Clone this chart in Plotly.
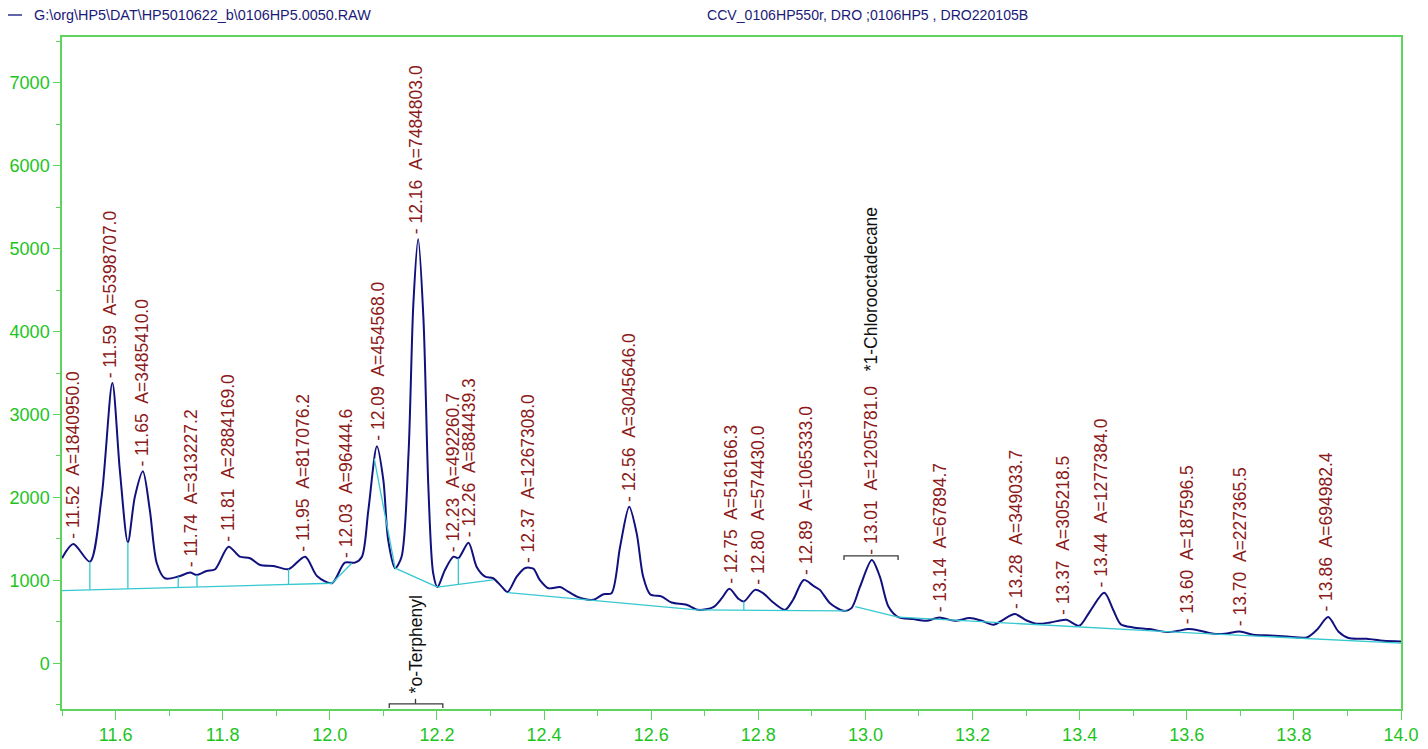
import plotly.graph_objects as go

# ---------------- data ----------------
time = [11.500, 11.521, 11.552, 11.574, 11.594, 11.608, 11.623, 11.636, 11.651, 11.664,
        11.677, 11.692, 11.717, 11.739, 11.752, 11.770, 11.786, 11.811, 11.832, 11.851,
        11.870, 11.895, 11.923, 11.954, 11.976, 12.004, 12.028, 12.047, 12.060, 12.072,
        12.088, 12.100, 12.109, 12.122, 12.134, 12.147, 12.156, 12.165, 12.175, 12.184,
        12.193, 12.201, 12.215, 12.231, 12.240, 12.259, 12.274, 12.290, 12.305, 12.321,
        12.332, 12.349, 12.365, 12.380, 12.392, 12.408, 12.430, 12.445, 12.464, 12.492,
        12.511, 12.526, 12.542, 12.559, 12.573, 12.585, 12.598, 12.620, 12.638, 12.666,
        12.688, 12.716, 12.732, 12.746, 12.763, 12.773, 12.794, 12.809, 12.828, 12.850,
        12.865, 12.885, 12.903, 12.915, 12.934, 12.959, 12.974, 12.990, 13.012, 13.027,
        13.043, 13.061, 13.089, 13.114, 13.138, 13.167, 13.195, 13.217, 13.239, 13.257,
        13.279, 13.301, 13.320, 13.345, 13.375, 13.399, 13.419, 13.446, 13.463, 13.477,
        13.500, 13.531, 13.563, 13.584, 13.603, 13.625, 13.650, 13.671, 13.699, 13.724,
        13.756, 13.787, 13.824, 13.843, 13.864, 13.883, 13.902, 13.936, 13.967, 14.000]

signal = [1267, 1439, 1226, 2007, 3378, 2328, 1459, 2007, 2316, 1847,
          1207, 1026, 1046, 1094, 1066, 1114, 1135, 1406, 1286, 1267,
          1186, 1174, 1135, 1286, 1054, 966, 1214, 1214, 1286, 1847,
          2617, 2208, 1487, 1147, 1286, 2529, 4332, 5113, 4131, 2128,
          1087, 918, 1126, 1286, 1267, 1454, 1166, 1046, 1026, 925,
          860, 1046, 1150, 1141, 1006, 906, 920, 865, 798, 766,
          834, 846, 1406, 1887, 1567, 1046, 834, 805, 733, 706,
          645, 678, 786, 898, 778, 745, 886, 846, 733, 645,
          766, 1006, 934, 886, 726, 633, 666, 925, 1246, 1046,
          685, 558, 534, 513, 553, 513, 546, 513, 465, 525,
          594, 517, 477, 493, 525, 453, 625, 850, 640, 470,
          433, 413, 377, 393, 413, 393, 357, 357, 385, 345,
          337, 325, 313, 405, 558, 385, 305, 297, 273, 265]

# integration baseline segments (start time, start level, end time, end level)
base_t0 = [11.500, 12.004, 12.083, 12.122, 12.201, 12.332, 12.685, 12.981, 13.061, 13.588]
base_y0 = [877, 966, 2469, 1147, 918, 853, 645, 685, 558, 373]
base_t1 = [12.004, 12.041, 12.122, 12.201, 12.305, 12.685, 12.965, 13.061, 13.588, 14.000]
base_y1 = [966, 1207, 1147, 918, 1006, 645, 633, 558, 373, 245]

# peak split (drop) lines
drop_t = [11.552, 11.623, 11.717, 11.752, 11.923, 12.240, 12.773, 13.320, 13.399]
drop_top = [1226, 1459, 1046, 1066, 1135, 1267, 745, 477, 453]
drop_bot = [886, 899, 915, 921, 952, 951, 641, 467, 439]

# peak labels
peak_t = [11.52, 11.59, 11.65, 11.74, 11.81, 11.95, 12.03, 12.09, 12.16, 12.23, 12.26, 12.37,
          12.56, 12.75, 12.80, 12.89, 13.01, 13.14, 13.28, 13.37, 13.44, 13.60, 13.70, 13.86]
peak_h = [1439, 3378, 2316, 1094, 1406, 1286, 1214, 2617, 5113, 1286, 1454, 1154,
          1887, 898, 886, 1006, 1246, 553, 594, 525, 850, 413, 385, 558]
peak_area = [1840950.0, 5398707.0, 3485410.0, 313227.2, 2884169.0, 817076.2, 96444.6,
             454568.0, 7484803.0, 492260.7, 884439.3, 1267308.0, 3045646.0, 516166.3,
             574430.0, 1065333.0, 1205781.0, 67894.7, 349033.7, 305218.5, 1277384.0,
             187596.5, 227365.5, 694982.4]

# identified compounds
comp_name = ["*o-Terphenyl", "*1-Chlorooctadecane"]
comp_t = [12.16, 13.01]
comp_left = [12.111, 12.960]
comp_right = [12.211, 13.061]
comp_level = [-488, 1295]

legend_file = "G:\\org\\HP5\\DAT\\HP5010622_b\\0106HP5.0050.RAW"
legend_info = "CCV_0106HP550r, DRO ;0106HP5 , DRO220105B"

x_ticks = [11.6, 11.8, 12.0, 12.2, 12.4, 12.6, 12.8, 13.0, 13.2, 13.4, 13.6, 13.8, 14.0]
y_ticks = [0, 1000, 2000, 3000, 4000, 5000, 6000, 7000]

# ---------------- styling ----------------
NAVY = "#10107e"
CYAN = "#35c8d0"
RED = "#8c1a1a"
GREEN_TXT = "#1cc41c"
GREEN_LINE = "#5ed45e"
FONT = "Liberation Sans, Arial, Helvetica, sans-serif"

fig = go.Figure()

fig.add_trace(go.Scatter(
    x=time, y=signal, mode="lines",
    line=dict(color=NAVY, width=2, shape="spline", smoothing=0.8),
    hoverinfo="skip", showlegend=False))

bx, by = [], []
for t0, y0, t1, y1 in zip(base_t0, base_y0, base_t1, base_y1):
    bx += [t0, t1, None]
    by += [y0, y1, None]
for t, a, b in zip(drop_t, drop_top, drop_bot):
    bx += [t, t, None]
    by += [a, b, None]
fig.add_trace(go.Scatter(x=bx, y=by, mode="lines",
                         line=dict(color=CYAN, width=1.3),
                         hoverinfo="skip", showlegend=False))

# compound brackets
kx, ky = [], []
for i, (l, r, lv) in enumerate(zip(comp_left, comp_right, comp_level)):
    d = 50
    kx += [l, l, r, r, None]
    ky += [lv - d, lv, lv, lv - d, None]
    if i == 0:
        kx += [comp_t[i], comp_t[i], None]
        ky += [lv, lv + 60, None]
fig.add_trace(go.Scatter(x=kx, y=ky, mode="lines",
                         line=dict(color="#3a3a3a", width=1.3),
                         hoverinfo="skip", showlegend=False))

sp = "\u00a0"
annotations = []
for t, h, a in zip(peak_t, peak_h, peak_area):
    txt = f"-{sp}{t:.2f}{sp}{sp}A={a:.1f}"
    if abs(t - comp_t[1]) < 1e-6:
        txt += f"{sp}{sp}{sp}<span style='color:#111111'>{comp_name[1]}</span>"
    annotations.append(dict(
        x=t, y=h, xref="x", yref="y", text=txt, textangle=-90,
        showarrow=False, xanchor="center", yanchor="bottom", yshift=3,
        font=dict(family=FONT, size=17.5, color=RED)))

annotations.append(dict(
    x=comp_t[0], y=comp_level[0] + 60, xref="x", yref="y", text=comp_name[0],
    textangle=-90, showarrow=False, xanchor="center", yanchor="bottom", yshift=3,
    font=dict(family=FONT, size=17.5, color="#111111")))

# header (legend)
annotations.append(dict(x=(32 - 62) / 1339, y=(709 - 15) / 672, xref="paper", yref="paper",
                        text=legend_file, showarrow=False, xanchor="left", yanchor="middle",
                        font=dict(family=FONT, size=14.4, color="#1a1a78")))
annotations.append(dict(x=(705 - 62) / 1339, y=(709 - 15) / 672, xref="paper", yref="paper",
                        text=legend_info, showarrow=False, xanchor="left", yanchor="middle",
                        font=dict(family=FONT, size=14.1, color="#1a1a78")))

shapes = [dict(type="line", xref="paper", yref="paper",
               x0=(8 - 62) / 1339, x1=(22 - 62) / 1339,
               y0=(709 - 15) / 672, y1=(709 - 15) / 672,
               line=dict(color=NAVY, width=1.3))]

fig.update_layout(
    template="none",
    width=1428, height=749,
    margin=dict(l=62, r=27, t=37, b=40, autoexpand=False),
    paper_bgcolor="white", plot_bgcolor="white",
    showlegend=False,
    annotations=annotations, shapes=shapes,
    xaxis=dict(range=[11.5, 14.0], tickvals=x_ticks, ticktext=[f"{v:.1f}" for v in x_ticks],
               automargin=False,
               ticks="outside", ticklen=9, tickwidth=1.3, tickcolor=GREEN_LINE,
               tickfont=dict(family=FONT, size=18, color=GREEN_TXT),
               ticklabeloverflow="allow",
               showline=True, linecolor=GREEN_LINE, linewidth=1.5, mirror=True,
               showgrid=False, zeroline=False,
               minor=dict(dtick=0.1, tick0=11.5, ticks="outside", ticklen=5,
                          tickcolor=GREEN_LINE, tickwidth=1.3, showgrid=False)),
    yaxis=dict(range=[-550, 7550], tickvals=y_ticks,
               automargin=False,
               ticks="outside", ticklen=7, tickwidth=1.3, tickcolor=GREEN_LINE,
               tickfont=dict(family=FONT, size=18, color=GREEN_TXT),
               showline=True, linecolor=GREEN_LINE, linewidth=1.5, mirror=True,
               showgrid=False, zeroline=False,
               minor=dict(dtick=500, tick0=0, ticks="outside", ticklen=4,
                          tickcolor=GREEN_LINE, tickwidth=1.3, showgrid=False)),
)

fig.write_html(
    "out.html",
    config={"displayModeBar": False},
    post_script=("document.documentElement.style.overflow='hidden';"
                 "document.body.style.margin='0';"
                 "document.body.style.overflow='hidden';"))
